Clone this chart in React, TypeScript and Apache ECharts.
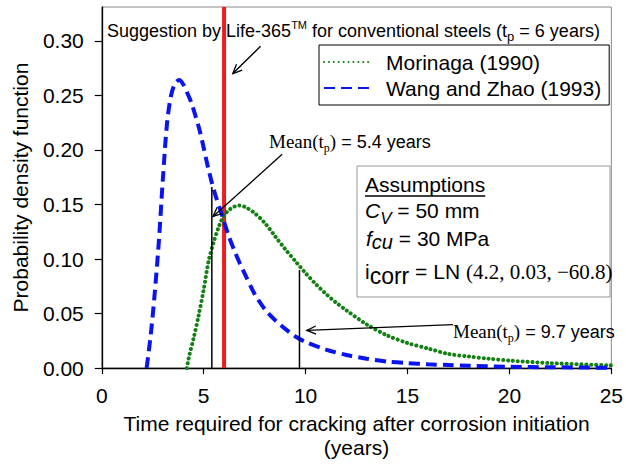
import React, { useEffect, useRef } from "react";
import * as echarts from "echarts";

const SANS = '"Liberation Sans", Arial, sans-serif';
const SERIF = '"Liberation Serif", "Times New Roman", serif';

// Axes
const xMin = 0;
const xMax = 25;
const xInterval = 5;
const yMin = 0;
const yMax = 0.331;
const yInterval = 0.05;

// Wang and Zhao (1993) – time (years) and PDF values
const wangYears = [2.2, 2.4, 2.6, 2.8, 3.0, 3.2, 3.4, 3.6, 3.8, 4.0, 4.2, 4.4, 4.6, 4.8, 5.0, 5.2, 5.4, 5.6, 5.8, 6.0, 6.25, 6.5, 6.75, 7.0, 7.5, 8.0, 8.5, 9.0, 9.5, 10, 11, 12, 13, 14, 15, 16, 17, 18, 20, 22, 25];
const wangPdf = [0, 0.03, 0.069, 0.116, 0.174, 0.224, 0.25, 0.261, 0.264, 0.26, 0.252, 0.243, 0.231, 0.218, 0.202, 0.185, 0.17, 0.157, 0.146, 0.134, 0.12, 0.108, 0.097, 0.087, 0.068, 0.054, 0.044, 0.036, 0.029, 0.024, 0.017, 0.012, 0.0086, 0.006, 0.0046, 0.0035, 0.0028, 0.0022, 0.0012, 0.0008, 0.0003];

// Morinaga (1990)
const morinagaYears = [4.17, 4.3, 4.5, 4.75, 5.0, 5.25, 5.5, 5.75, 6.0, 6.25, 6.5, 6.75, 7.0, 7.5, 8.0, 8.5, 9.0, 9.5, 10, 10.5, 11, 11.5, 12, 13, 14, 15, 16, 17, 18, 19, 20, 22, 25];
const morinagaPdf = [0, 0.012, 0.027, 0.048, 0.072, 0.099, 0.116, 0.13, 0.14, 0.145, 0.148, 0.149, 0.148, 0.142, 0.133, 0.121, 0.109, 0.098, 0.087, 0.077, 0.068, 0.06, 0.053, 0.04, 0.03, 0.023, 0.018, 0.013, 0.0106, 0.0086, 0.0069, 0.0046, 0.0025];

// Reference lines
const life365Tp = 6;
const meanWangTp = 5.4;
const meanWangPdf = 0.166;
const meanMorTp = 9.7;
const meanMorPdf = 0.09;

// Annotation arrows in data coordinates: [from, to]
const arrowLife365 = [[7.79, 0.295], [6.43, 0.27]];
const arrowMeanWang = [[8.85, 0.196], [5.46, 0.139]];
const arrowMeanMor = [[17.23, 0.0399], [10.06, 0.0345]];

const seriesNames = ["Morinaga (1990)", "Wang and Zhao (1993)"];

const ctx = typeof document !== "undefined" ? document.createElement("canvas").getContext("2d") : null;
function measure(text: string, font: string) {
  if (!ctx) return text.length * 10;
  ctx.font = font;
  return ctx.measureText(text).width;
}

type Run = { t: string; size: number; family?: string; style?: string; dy?: number };
function runs(x: number, baseline: number, items: Run[]) {
  const out: any[] = [];
  let cx = x;
  for (const r of items) {
    const fam = r.family || SANS;
    const st = r.style || "normal";
    out.push({
      type: "text",
      x: cx,
      y: baseline + (r.dy || 0) - 0.35 * r.size,
      z: 20,
      silent: true,
      style: {
        text: r.t,
        fill: "#000",
        fontSize: r.size,
        fontFamily: fam,
        fontStyle: st,
        verticalAlign: "middle",
        align: "left",
      },
    });
    cx += measure(r.t, `${st} ${r.size}px ${fam}`);
  }
  return { els: out, end: cx };
}

function arrowEls(a: number[], b: number[]) {
  const ang = Math.atan2(a[1] - b[1], a[0] - b[0]);
  const len = 10;
  const spread = 0.42;
  const p1 = [b[0] + len * Math.cos(ang + spread), b[1] + len * Math.sin(ang + spread)];
  const p2 = [b[0] + len * Math.cos(ang - spread), b[1] + len * Math.sin(ang - spread)];
  const st = { stroke: "#000", lineWidth: 1.3 };
  return [
    { type: "line", z: 20, silent: true, shape: { x1: a[0], y1: a[1], x2: b[0], y2: b[1] }, style: st },
    { type: "polyline", z: 20, silent: true, shape: { points: [p1, b, p2] }, style: { ...st, fill: null } },
  ];
}

export default function App() {
  const ref = useRef<HTMLDivElement>(null);
  useEffect(() => {
    const chart = echarts.init(ref.current!, null, { renderer: "svg" });
    const option: any = {
      animation: false,
      backgroundColor: "#fff",
      textStyle: { fontFamily: SANS },
      grid: { left: 97, right: 11, top: 7, bottom: 86, show: true, borderColor: "#888", borderWidth: 1 },
      legend: {
        data: seriesNames,
        orient: "vertical",
        left: 319,
        top: 45,
        padding: [4, 8, 4, 4],
        itemGap: 0,
        itemWidth: 47,
        itemHeight: 14,
        borderColor: "#000",
        borderWidth: 1,
        backgroundColor: "#fff",
        itemStyle: { color: "transparent", borderColor: "transparent", borderWidth: 0 },
        textStyle: { fontSize: 21, color: "#000", fontFamily: SANS, lineHeight: 26, padding: [0, 0, 0, 10] },
      },
      xAxis: {
        type: "value",
        min: xMin,
        max: xMax,
        interval: xInterval,
        name: "Time required for cracking after corrosion initiation\n(years)",
        nameLocation: "middle",
        nameGap: 35,
        nameTextStyle: { fontSize: 21, color: "#000", fontFamily: SANS, lineHeight: 24 },
        axisLine: { lineStyle: { color: "#000", width: 1.3 } },
        axisTick: { inside: false, length: 6, lineStyle: { color: "#000", width: 1.2 } },
        axisLabel: { fontSize: 21, color: "#000", margin: 17, fontFamily: SANS },
        splitLine: { show: false },
      },
      yAxis: {
        type: "value",
        min: yMin,
        max: yMax,
        interval: yInterval,
        name: "Probability density function",
        nameLocation: "middle",
        nameGap: 63,
        nameTextStyle: { fontSize: 21, color: "#000", fontFamily: SANS, lineHeight: 24 },
        axisLine: { lineStyle: { color: "#000", width: 1.3 } },
        axisTick: { inside: false, length: 7, lineStyle: { color: "#000", width: 1.2 } },
        axisLabel: {
          fontSize: 21,
          color: "#000",
          margin: 18,
          fontFamily: SANS,
          showMaxLabel: false,
          formatter: (v: number) => v.toFixed(2),
        },
        splitLine: { show: false },
      },
      series: [
        {
          name: "Life-365",
          type: "line",
          data: [[life365Tp, yMin], [life365Tp, yMax]],
          symbol: "none",
          lineStyle: { color: "#ee1c1c", width: 4 },
          z: 1,
          silent: true,
        },
        {
          name: seriesNames[0],
          type: "line",
          data: morinagaYears.map((x, i) => [x, morinagaPdf[i]]),
          symbol: "none",
          smooth: 0.3,
          itemStyle: { color: "#138013" },
          lineStyle: { color: "#138013", width: 4, type: [0.1, 4.8], cap: "round" },
          z: 3,
        },
        {
          name: seriesNames[1],
          type: "line",
          data: wangYears.map((x, i) => [x, wangPdf[i]]),
          symbol: "none",
          smooth: 0.3,
          itemStyle: { color: "#0a14f0" },
          lineStyle: { color: "#0a14f0", width: 4, type: [11, 6] },
          z: 4,
        },
        {
          name: "Mean Wang",
          type: "line",
          data: [[meanWangTp, 0], [meanWangTp, meanWangPdf]],
          symbol: "none",
          lineStyle: { color: "#000", width: 1.5 },
          z: 5,
          silent: true,
        },
        {
          name: "Mean Morinaga",
          type: "line",
          data: [[meanMorTp, 0], [meanMorTp, meanMorPdf]],
          symbol: "none",
          lineStyle: { color: "#000", width: 1.5 },
          z: 5,
          silent: true,
        },
      ],
    };
    chart.setOption(option);

    const px = (p: number[]) => chart.convertToPixel({ gridIndex: 0 }, p) as number[];
    const els: any[] = [];
    for (const a of [arrowLife365, arrowMeanWang, arrowMeanMor]) {
      els.push(...arrowEls(px(a[0]), px(a[1])));
    }

    // Top annotation
    els.push(
      ...runs(107, 37, [
        { t: "Suggestion by Life-365", size: 18 },
        { t: "TM", size: 11, dy: -8 },
        { t: " for conventional steels (t", size: 18 },
        { t: "p", size: 13, dy: 4 },
        { t: " = 6 years)", size: 18 },
      ]).els
    );

    // Mean annotations
    const meanRuns = (label: string): Run[] => [
      { t: "Mean(t", size: 19, family: SERIF },
      { t: "p", size: 12, family: SERIF, dy: 4 },
      { t: ")", size: 19, family: SERIF },
      { t: ` = ${label} years`, size: 18 },
    ];
    els.push(...runs(269, 148, meanRuns("5.4")).els);
    els.push(...runs(453, 338, meanRuns("9.7")).els);

    // Assumptions box
    els.push({
      type: "rect",
      z: 15,
      silent: true,
      shape: { x: 357, y: 166, width: 253, height: 131 },
      style: { fill: "#fff", stroke: "#999", lineWidth: 1 },
    });
    const title = runs(365, 192, [{ t: "Assumptions", size: 21 }]);
    els.push(...title.els);
    els.push({
      type: "line",
      z: 20,
      silent: true,
      shape: { x1: 365, y1: 196, x2: title.end, y2: 196 },
      style: { stroke: "#000", lineWidth: 1.3 },
    });
    els.push(
      ...runs(365, 218, [
        { t: "C", size: 21, style: "italic" },
        { t: "V", size: 17, style: "italic", dy: 6 },
        { t: " = 50 mm", size: 21 },
      ]).els
    );
    els.push(
      ...runs(366, 246, [
        { t: "f", size: 21, style: "italic" },
        { t: "cu", size: 20, style: "italic", dy: 3 },
        { t: " = 30 MPa", size: 21 },
      ]).els
    );
    els.push(
      ...runs(365, 279, [
        { t: "i", size: 21 },
        { t: "corr", size: 23, dy: 5 },
        { t: " = LN ", size: 21 },
        { t: "(4.2, 0.03, \u221260.8)", size: 21, family: SERIF },
      ]).els
    );

    chart.setOption({ graphic: { elements: els } });
    return () => chart.dispose();
  }, []);
  return <div ref={ref} style={{ position: "absolute", left: 0, top: 0, width: 626, height: 464 }} />;
}
